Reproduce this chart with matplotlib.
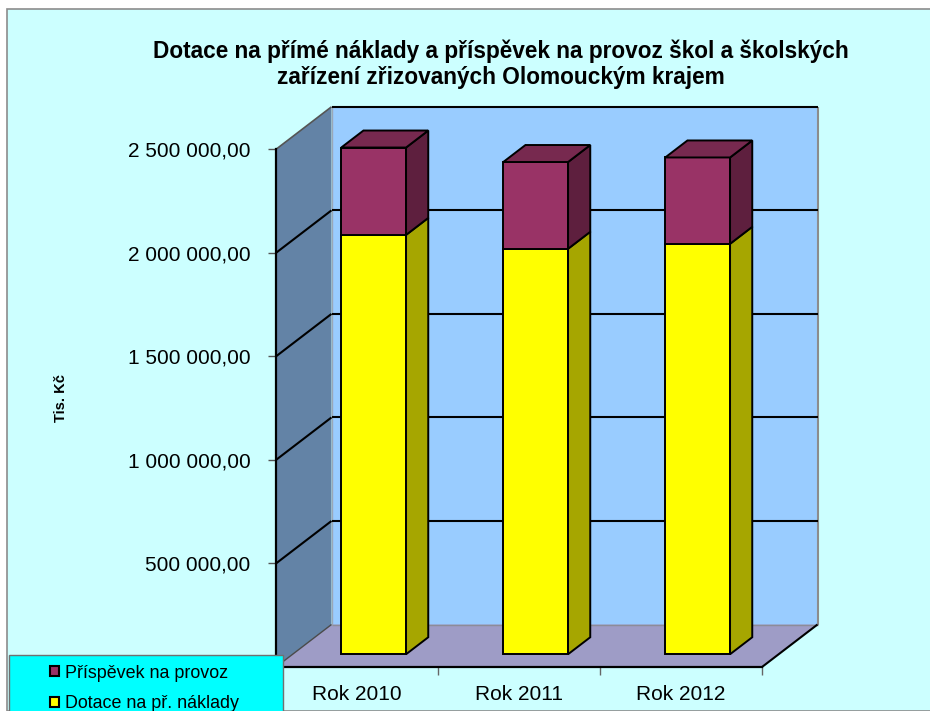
import matplotlib
matplotlib.use("Agg")
import matplotlib.pyplot as plt
from matplotlib.patches import Polygon, Rectangle, Patch
from matplotlib.lines import Line2D

plt.rcParams['font.family'] = ['Liberation Sans', 'DejaVu Sans']

# ---- data ----
categories = ["Rok 2010", "Rok 2011", "Rok 2012"]
dotace = [2025000, 1958000, 1982000]          # Dotace na př. náklady
prispevek = [422000, 419000, 417000]          # Příspěvek na provoz
series_names = ["Příspěvek na provoz", "Dotace na př. náklady"]
yticks = [500000, 1000000, 1500000, 2000000, 2500000]
title = "Dotace na přímé náklady a příspěvek na provoz škol a školských\nzařízení zřizovaných Olomouckým krajem"
ylabel = "Tis. Kč"

# ---- colors ----
bg = "#CCFFFF"
wall_back = "#99CCFF"
wall_left = "#6383A6"
floor_c = "#9E9CC6"
purple_front, purple_top, purple_side = "#993366", "#77294F", "#5E1F3E"
yellow_front, yellow_side = "#FFFF00", "#A6A600"

W, H = 930, 711
fig = plt.figure(figsize=(W / 100, H / 100), dpi=100)
fig.patch.set_facecolor("white")

# chart area background with gray border
fig.add_artist(Rectangle((7 / W, 0), 1, 1 - 8.5 / H, transform=fig.transFigure,
                         facecolor=bg, edgecolor="#8C8C8C", lw=1.2, zorder=-1))

# front plane of the plot
px_left, px_right, px_zero, px_top = 276, 762, 667, 149.3
ax = fig.add_axes([px_left / W, (H - px_zero) / H, (px_right - px_left) / W, (px_zero - px_top) / H])
ax.set_facecolor("none")
ncat = len(categories)
vmax = 2500000
ax.set_xlim(0, ncat)
ax.set_ylim(0, vmax)

# oblique depth offsets in data units
DX = 55.5 / ((px_right - px_left) / ncat)
DY = 42.5 * vmax / (px_zero - px_top)

def poly(pts, fc, ec="black", lw=1.4, z=2):
    ax.add_patch(Polygon(pts, closed=True, facecolor=fc, edgecolor=ec, lw=lw,
                         zorder=z, clip_on=False, joinstyle="miter"))

# walls and floor
poly([(0, 0), (0, vmax), (DX, vmax + DY), (DX, DY)], wall_left, ec="none", z=1)
poly([(DX, DY), (ncat + DX, DY), (ncat + DX, vmax + DY), (DX, vmax + DY)], wall_back, ec="none", z=1)
poly([(0, 0), (ncat, 0), (ncat + DX, DY), (DX, DY)], floor_c, ec="none", z=1)

def line(xs, ys, c="black", lw=1.5, z=1.5):
    ax.add_line(Line2D(xs, ys, color=c, lw=lw, zorder=z, clip_on=False, solid_capstyle="butt"))

# wall edges
line([DX, DX], [DY, vmax + DY], c="#9AA8B8", lw=1.0)
line([ncat + DX, ncat + DX], [DY, vmax + DY], c="#8C8C8C", lw=1.5)
line([0, DX], [0, DY], c="#4A4A4A", lw=1.0)
line([DX, ncat + DX], [DY, DY], c="#8C8C98", lw=1.0)
line([ncat, ncat + DX], [0, DY], c="black", lw=1.5)
line([0, DX], [vmax, vmax + DY], c="#555555", lw=1.2)

# gridlines
for v in yticks:
    if v < vmax:
        line([0, DX], [v, v + DY], lw=1.5)
    line([DX, ncat + DX], [v + DY, v + DY], lw=1.5)

# bars (front face at 30% depth, back at 70%)
f0, f1 = 0.3, 0.7
bw = 0.4
for i in range(ncat):
    x0 = i + 0.5 - bw / 2 + f0 * DX
    x1 = i + 0.5 + bw / 2 + f0 * DX
    b0 = f0 * DY
    sx = (f1 - f0) * DX
    sy = (f1 - f0) * DY
    segs = [(0, dotace[i], yellow_front, yellow_side, None),
            (dotace[i], dotace[i] + prispevek[i], purple_front, purple_side, purple_top)]
    for lo, hi, cf, cs, ct in segs:
        y0, y1 = lo + b0, hi + b0
        poly([(x0, y0), (x1, y0), (x1, y1), (x0, y1)], cf, z=3)
        poly([(x1, y0), (x1 + sx, y0 + sy), (x1 + sx, y1 + sy), (x1, y1)], cs, z=3)
        if ct is not None:
            poly([(x0, y1), (x1, y1), (x1 + sx, y1 + sy), (x0 + sx, y1 + sy)], ct, z=3)

# axes styling
for s in ["top", "right"]:
    ax.spines[s].set_visible(False)
for s in ["left", "bottom"]:
    ax.spines[s].set_color("black")
    ax.spines[s].set_linewidth(1.6)
    ax.spines[s].set_zorder(2.5)

ax.set_yticks(yticks)
ax.set_yticklabels([f"{v:,.2f}".replace(",", " ").replace(".", ",") for v in yticks])
ax.tick_params(axis="y", direction="out", length=6, width=1, color="#555555",
               labelsize=15, pad=12.5)
ax.set_xticks([i + 0.5 for i in range(ncat)])
ax.set_xticklabels(categories)
ax.set_xticks(list(range(ncat + 1)), minor=True)
ax.tick_params(axis="x", which="major", length=0, labelsize=15, pad=13)
ax.tick_params(axis="x", which="minor", direction="out", length=6, width=1, color="#666666")

# y label
fig.text(61 / W, 1 - 398 / H, ylabel, rotation=90, ha="center", va="center",
         fontsize=10.5, fontweight="bold")

# title
fig.text(500.5 / W, 1 - 39.5 / H, title, ha="center", va="top", fontsize=16.3,
         fontweight="bold", linespacing=1.17, multialignment="center")

# legend box + legend
fig.add_artist(Rectangle((9 / W, -0.05), (283 - 9) / W, 0.05 + 1 - 655 / H,
                         transform=fig.transFigure, facecolor="#00FFFF",
                         edgecolor="#707070", lw=1.0, zorder=4))
handles = [Patch(facecolor=purple_front, edgecolor="black", lw=1.5),
           Patch(facecolor=yellow_front, edgecolor="black", lw=1.5)]
fig.legend(handles, series_names, loc="upper left",
           bbox_to_anchor=(50 / W, 1 - 664.5 / H), frameon=False, fontsize=12.9,
           handlelength=0.5, handleheight=0.5, handletextpad=0.35,
           labelspacing=0.78, borderpad=0, borderaxespad=0)

fig.savefig("out.png", dpi=100, facecolor=fig.get_facecolor())
